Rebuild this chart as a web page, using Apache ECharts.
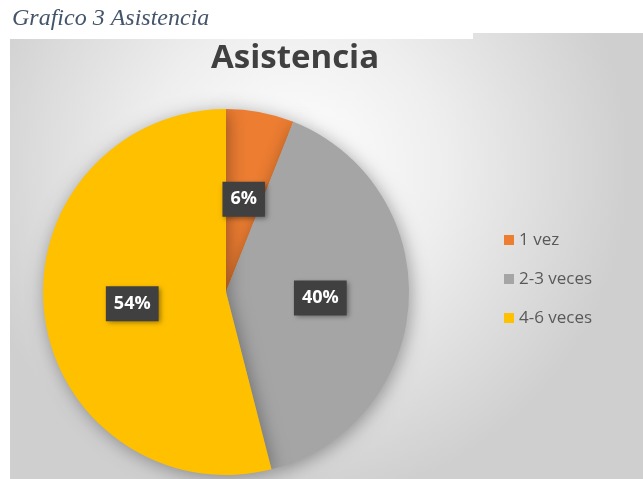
<!DOCTYPE html>
<html>
<head>
<meta charset="utf-8">
<script src="https://cdn.jsdelivr.net/npm/echarts@6/dist/echarts.min.js"></script>
<style>
  html, body { margin: 0; padding: 0; background: #ffffff; }
  #chart { width: 643px; height: 479px; }
</style>
</head>
<body>
<div id="chart"></div>
<script>
// datos del grafico
var categorias = ['1 vez', '2-3 veces', '4-6 veces'];
var porcentajes = [6, 40, 54];
var colores = ['#ED7D31', '#A5A5A5', '#FFC000'];

var chart = echarts.init(document.getElementById('chart'), null, { renderer: 'canvas' });

var datos = categorias.map(function (c, i) {
  return { name: c, value: porcentajes[i], itemStyle: { color: colores[i] } };
});

var option = {
  backgroundColor: '#ffffff',
  animation: false,
  graphic: [
    {
      // fondo del area del grafico (recorte con escalon arriba a la derecha)
      type: 'polygon',
      z: -10,
      shape: { points: [[10, 39], [473, 39], [473, 33], [643, 33], [643, 479], [10, 479]] },
      style: {
        fill: {
          type: 'radial', x: 0.45, y: 0.3, r: 0.75,
          colorStops: [
            { offset: 0, color: '#ffffff' },
            { offset: 0.45, color: '#eeeeee' },
            { offset: 1, color: '#cfcfcf' }
          ]
        }
      }
    },
    {
      type: 'text',
      left: 12,
      top: 7,
      style: {
        text: 'Grafico 3 Asistencia',
        font: 'italic 24px "Liberation Serif", serif',
        fill: '#44546A'
      }
    }
  ],
  title: {
    text: 'Asistencia',
    left: 206,
    top: 37,
    textStyle: {
      fontFamily: '"Open Sans", "Noto Sans", sans-serif',
      fontSize: 33,
      fontWeight: 'bold',
      color: '#404040'
    }
  },
  legend: {
    orient: 'vertical',
    left: 499,
    top: 226,
    itemWidth: 10,
    itemHeight: 10,
    itemGap: 21,
    icon: 'rect',
    textStyle: {
      fontFamily: '"Open Sans", "Noto Sans", sans-serif',
      fontSize: 17,
      lineHeight: 18,
      color: '#595959'
    },
    data: categorias
  },
  series: [{
    type: 'pie',
    center: [226, 292],
    radius: 183,
    startAngle: 90,
    clockwise: true,
    itemStyle: {
      shadowBlur: 18,
      shadowColor: 'rgba(0,0,0,0.35)',
      shadowOffsetX: 2,
      shadowOffsetY: 3
    },
    label: {
      position: 'inside',
      formatter: '{c}%',
      color: '#ffffff',
      fontFamily: '"Open Sans", "Noto Sans", sans-serif',
      fontSize: 18,
      fontWeight: 'bold',
      backgroundColor: '#404040',
      padding: [9, 8, 8, 8],
      shadowBlur: 5,
      shadowColor: 'rgba(0,0,0,0.4)',
      shadowOffsetX: 2,
      shadowOffsetY: 2
    },
    labelLine: { show: false },
    emphasis: { disabled: true },
    data: datos
  }]
};

chart.setOption(option);
</script>
</body>
</html>
